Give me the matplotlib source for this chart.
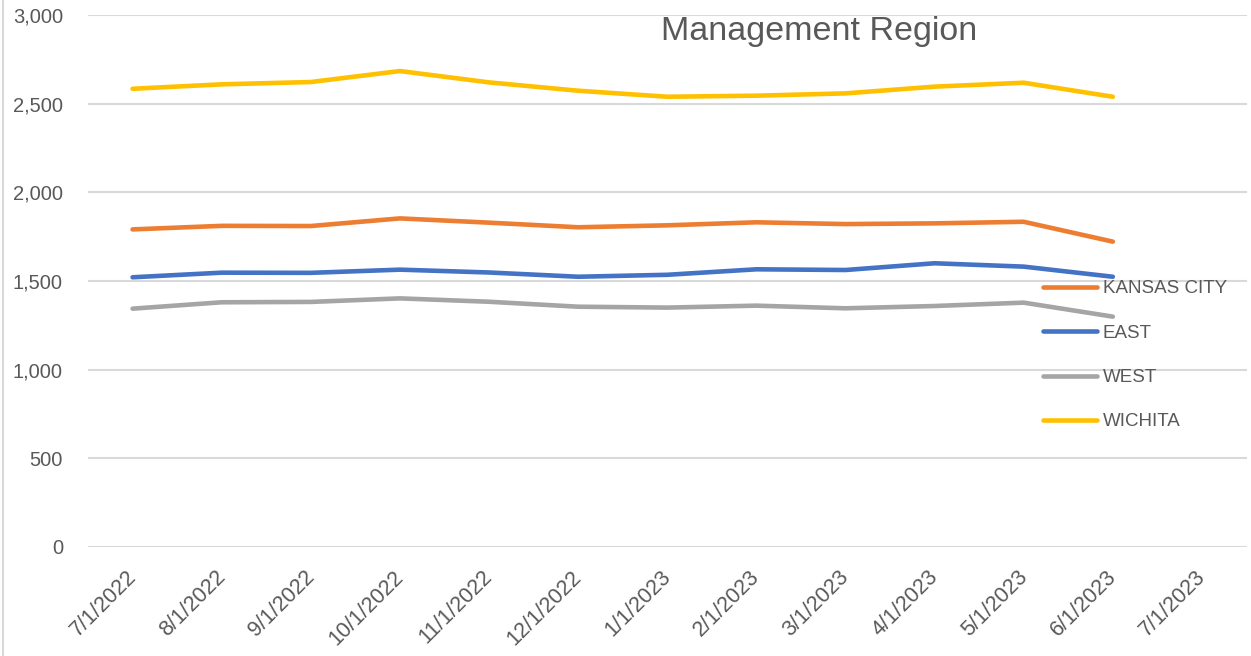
import matplotlib
matplotlib.use("Agg")
from matplotlib import pyplot as plt
from matplotlib.lines import Line2D
from matplotlib.transforms import ScaledTranslation

# monthly counts per management region
months = ["7/1/2022", "8/1/2022", "9/1/2022", "10/1/2022", "11/1/2022", "12/1/2022",
          "1/1/2023", "2/1/2023", "3/1/2023", "4/1/2023", "5/1/2023", "6/1/2023", "7/1/2023"]
kansas_city = [1791, 1811, 1810, 1853, 1829, 1803, 1814, 1831, 1821, 1825, 1834, 1722]
east = [1521, 1547, 1546, 1564, 1548, 1524, 1535, 1566, 1562, 1600, 1581, 1524]
west = [1344, 1380, 1382, 1402, 1383, 1355, 1350, 1361, 1346, 1359, 1378, 1299]
wichita = [2584, 2609, 2622, 2684, 2620, 2573, 2539, 2545, 2558, 2596, 2618, 2539]

series = [("KANSAS CITY", kansas_city, "#ED7D31"),
          ("EAST", east, "#4472C4"),
          ("WEST", west, "#A5A5A5"),
          ("WICHITA", wichita, "#FFC000")]

plt.rcParams['font.family'] = ['Liberation Sans', 'DejaVu Sans']
txt = "#595959"

fig = plt.figure(figsize=(12.51, 6.56), dpi=100)
ax = fig.add_axes([88 / 1251, 1 - 547 / 656, (1246.5 - 88) / 1251, (547 - 15) / 656])

x = list(range(len(months)))
for name, vals, col in series:
    ax.plot(x[:len(vals)], vals, color=col, lw=3.3, label=name,
            solid_capstyle="round", solid_joinstyle="round", zorder=3)

ax.set_xlim(-0.5, len(months) - 0.5)
ax.set_ylim(0, 3000)
ax.set_yticks(range(0, 3001, 500))
ax.set_yticklabels([f"{v:,}" for v in range(0, 3001, 500)])
ax.set_xticks(x)
ax.set_xticklabels(months, rotation=45, ha="right", rotation_mode="anchor")
ax.tick_params(axis="both", length=0, labelsize=14.5, colors=txt)
ax.tick_params(axis="x", labelsize=15.5, pad=14)
ax.tick_params(axis="y", pad=18)
# nudge the date labels a little to the left
shift = ScaledTranslation(-7 / 100, 0, fig.dpi_scale_trans)
for lab in ax.get_xticklabels():
    lab.set_transform(lab.get_transform() + shift)
ax.grid(axis="y", color="#D9D9D9", lw=1.5, zorder=0)
for s in ax.spines.values():
    s.set_visible(False)

ax.text(0.631, 0.953, "Management Region", transform=ax.transAxes, fontsize=24.5,
        color=txt, ha="center", va="baseline")

leg = ax.legend(loc="upper left", bbox_to_anchor=(0.8096, 0.533), frameon=False,
                fontsize=13.5, labelcolor=txt, handlelength=2.9, handletextpad=0.3,
                labelspacing=1.45)

# chart area border on the left
fig.add_artist(Line2D([3 / 1251, 3 / 1251], [0, 1], color="#D9D9D9", lw=1.5))

fig.savefig("out.png", dpi=100)
